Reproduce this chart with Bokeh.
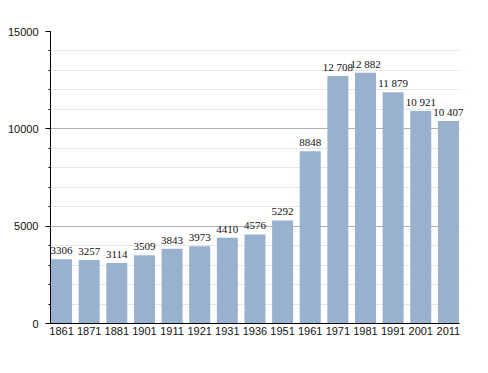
from bokeh.plotting import figure
from bokeh.models import ColumnDataSource, Range1d, FixedTicker, LabelSet, BoxAnnotation
from bokeh.embed import file_html
from bokeh.resources import INLINE

years = ["1861", "1871", "1881", "1901", "1911", "1921", "1931", "1936",
         "1951", "1961", "1971", "1981", "1991", "2001", "2011"]
population = [3306, 3257, 3114, 3509, 3843, 3973, 4410, 4576,
              5292, 8848, 12708, 12882, 11879, 10921, 10407]
y_major_ticks = [0, 5000, 10000, 15000]
y_minor_ticks = list(range(0, 15001, 1000))


def fmt(v):
    return f"{v:,}".replace(",", " ") if v >= 10000 else str(v)


idx = list(range(len(years)))
src = ColumnDataSource(dict(x=idx, top=population,
                            label=[fmt(v) for v in population]))

FONT = "Liberation Sans"
FS = "11px"
X0, X1, XEND = -0.40, 14.40, 14.80

p = figure(width=480, height=365, output_backend="svg", toolbar_location=None,
           x_range=Range1d(X0, XEND), y_range=Range1d(0, 15000),
           min_border_left=50, min_border_right=10, min_border_top=31,
           min_border_bottom=42)
p.outline_line_color = None
p.background_fill_color = "white"

# hide grid lines beyond the plotting area proper (room for the last label)
p.add_layout(BoxAnnotation(left=X1, fill_color="white", fill_alpha=1,
                           line_color=None, level="underlay"))

p.vbar(x="x", top="top", width=0.76, source=src, fill_color="#98b1cf",
       line_color=None)

labels = LabelSet(x="x", y="top", text="label", source=src, y_offset=5,
                  text_align="center", text_baseline="alphabetic",
                  text_font=FONT, text_font_size=FS, text_color="#111111")
p.add_layout(labels)

# y axis
p.yaxis.ticker = FixedTicker(ticks=y_major_ticks, minor_ticks=y_minor_ticks)
p.yaxis.axis_line_color = "black"
p.yaxis.major_tick_out = 5
p.yaxis.major_tick_in = 0
p.yaxis.minor_tick_out = 2
p.yaxis.minor_tick_in = 0
p.yaxis.major_label_standoff = 7
p.yaxis.major_label_text_font = FONT
p.yaxis.major_label_text_font_size = FS
p.yaxis.major_label_text_color = "#111111"

# x axis
p.xaxis.ticker = FixedTicker(ticks=idx)
p.xaxis.bounds = (X0, X1)
p.xaxis.major_label_overrides = {i: y for i, y in zip(idx, years)}
p.xaxis.axis_line_color = "black"
p.xaxis.major_tick_out = 0
p.xaxis.major_tick_in = 0
p.xaxis.minor_tick_out = 0
p.xaxis.minor_tick_in = 0
p.xaxis.major_label_standoff = 3
p.xaxis.major_label_text_font = FONT
p.xaxis.major_label_text_font_size = FS
p.xaxis.major_label_text_color = "#111111"

# grids
p.xgrid.grid_line_color = None
p.ygrid.grid_line_color = "#b0b0b0"
p.ygrid.minor_grid_line_color = "#e6e6e6"

open("out.html", "w").write(file_html(p, INLINE))
